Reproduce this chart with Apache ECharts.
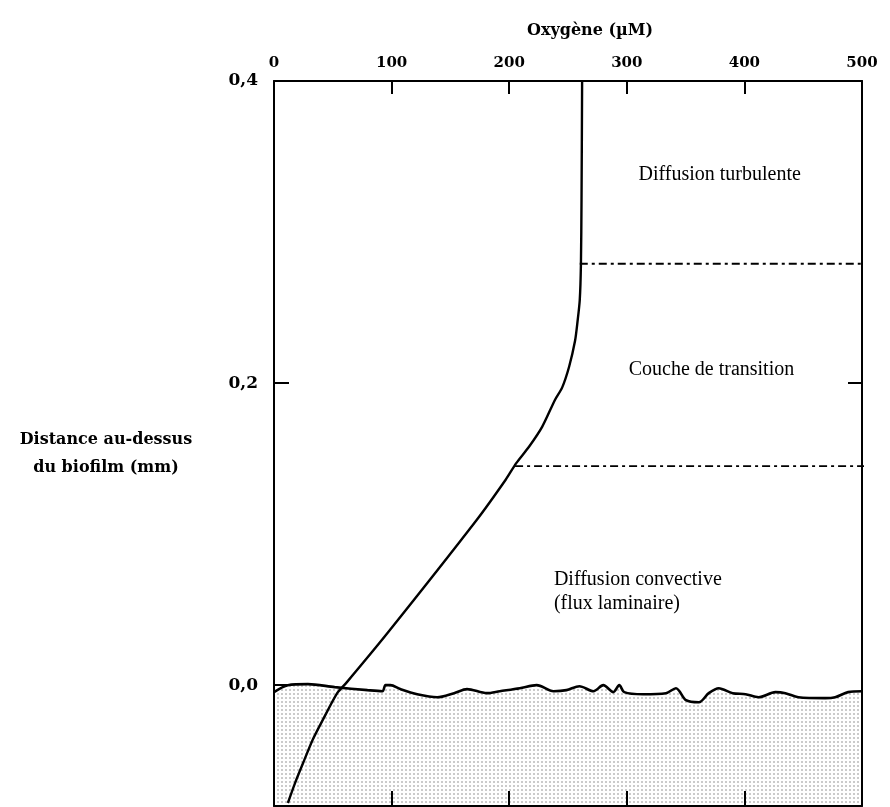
<!DOCTYPE html>
<html>
<head>
<meta charset="utf-8">
<script src="https://cdn.jsdelivr.net/npm/echarts@6/dist/echarts.min.js"></script>
<style>html,body{margin:0;padding:0;background:#fff;}#chart{width:890px;height:807px;}</style>
</head>
<body>
<div id="chart"></div>
<script>
// ---- data ----
const oxygenTicks = [0, 100, 200, 300, 400, 500];
const distanceTicks = [0, 0.2, 0.4];
const profileO2 = [262, 261.5, 261, 260, 258, 256, 251, 245, 239, 228, 217, 206, 197, 172, 96, 62, 54, 41.5, 33.0, 24.5, 17.8, 11.8];
const profileDist = [0.400, 0.321, 0.279, 0.255, 0.240, 0.228, 0.211, 0.197, 0.189, 0.171, 0.158, 0.147, 0.136, 0.109, 0.034, 0.002, -0.005, -0.023, -0.036, -0.052, -0.065, -0.078];
const surfaceO2 = [0, 11.8, 28.8, 51.6, 79.5, 92.2, 94.8, 99.0, 107.4, 121.8, 138.7, 153.1, 164.1, 181.0, 192.0, 209.0, 223.4, 237.7, 248.7, 259.7, 271.6, 280.0, 288.5, 293.6, 297.8, 313.9, 333.3, 341.8, 350.3, 361.3, 369.7, 378.2, 390.0, 401.0, 412.0, 426.4, 434.9, 445.9, 468.7, 477.2, 488.2, 500];
const surfaceDist = [-0.0046, 0.0000, 0.0007, -0.0013, -0.0033, -0.0040, 0.0000, 0.0000, -0.0026, -0.0060, -0.0080, -0.0053, -0.0026, -0.0053, -0.0040, -0.0020, 0.0000, -0.0040, -0.0033, -0.0007, -0.0040, 0.0000, -0.0046, 0.0000, -0.0046, -0.0060, -0.0053, -0.0020, -0.0099, -0.0113, -0.0053, -0.0020, -0.0053, -0.0060, -0.0080, -0.0046, -0.0053, -0.0080, -0.0086, -0.0080, -0.0046, -0.0040];
const boundaryDist = [0.279, 0.145];
const boundaryStartO2 = [260, 205];
const boundaryEndO2 = [511, 510];
const zoneNames = ['Diffusion turbulente', 'Couche de transition', 'Diffusion convective\n(flux laminaire)'];
const zoneO2 = [379, 372, 238];
const zoneDist = [0.338, 0.209, 0.062];
const zoneAlign = ['center', 'center', 'left'];
const yAxisTitle = 'Distance au-dessus\ndu biofilm (mm)';

// ---- chart ----
const chart = echarts.init(document.getElementById('chart'), null, {renderer: 'canvas'});

const pat = document.createElement('canvas');
pat.width = 4; pat.height = 4;
const pctx = pat.getContext('2d');
pctx.fillStyle = '#ffffff'; pctx.fillRect(0, 0, 4, 4);
pctx.fillStyle = '#cbcbcb'; pctx.fillRect(1, 1, 2, 2);

const boldFont = 'DejaVu Serif';
const xAxisBase = {type: 'value', min: 0, max: 500, interval: 100, splitLine: {show: false}, z: 8,
  axisLine: {show: true, onZero: false, lineStyle: {color: '#000', width: 2}}};
const yAxisBase = {type: 'value', min: -0.08, max: 0.4, splitLine: {show: false}, z: 8,
  axisLine: {show: true, onZero: false, lineStyle: {color: '#000', width: 2}}};

const series = [];
series.push({
  type: 'line', name: 'biofilm', data: surfaceO2.map((x, i) => [x, surfaceDist[i]]),
  smooth: 0.3, symbol: 'none', z: 2,
  lineStyle: {color: '#000', width: 2.6},
  areaStyle: {origin: 'start', color: {image: pat, repeat: 'repeat'}, opacity: 1}
});
series.push({
  type: 'line', name: 'oxygène', data: profileO2.map((x, i) => [x, profileDist[i]]),
  smooth: 0.25, symbol: 'none', z: 5,
  lineStyle: {color: '#000', width: 2.4}
});
boundaryDist.forEach((d, i) => {
  series.push({
    type: 'line', data: [[boundaryStartO2[i], d], [boundaryEndO2[i], d]], symbol: 'none', clip: false, z: 4,
    lineStyle: {color: '#000', width: 1.8, type: [8, 4, 3, 4]}
  });
});
series.push({
  type: 'scatter', symbolSize: 0, z: 6, itemStyle: {opacity: 1},
  data: zoneO2.map((x, i) => ({value: [x, zoneDist[i], zoneNames[i]], label: {align: zoneAlign[i]}})),
  label: {show: true, position: 'inside', formatter: p => p.data.value[2],
    fontFamily: 'Liberation Serif', fontSize: 20, color: '#000', opacity: 1, lineHeight: 24}
});

chart.setOption({
  animation: false,
  backgroundColor: '#fff',
  grid: {left: 274, right: 28, top: 81, bottom: 1, containLabel: false},
  graphic: [{
    type: 'text', x: 106, y: 454, z: 10,
    style: {text: yAxisTitle, align: 'center', verticalAlign: 'middle', lineHeight: 28,
      font: 'bold 16px "DejaVu Serif"', fill: '#000'}
  }],
  xAxis: [
    Object.assign({}, xAxisBase, {position: 'top',
      name: 'Oxygène (µM)', nameLocation: 'middle', nameGap: 42,
      nameTextStyle: {fontFamily: boldFont, fontWeight: 'bold', fontSize: 16, color: '#000', padding: [0, 0, 0, 44]},
      axisTick: {show: true, inside: true, length: 13, lineStyle: {color: '#000', width: 2}},
      axisLabel: {show: true, margin: 10, fontFamily: boldFont, fontWeight: 'bold', fontSize: 15, color: '#000'}}),
    Object.assign({}, xAxisBase, {position: 'bottom',
      axisTick: {show: true, inside: true, length: 15, lineStyle: {color: '#000', width: 2}},
      axisLabel: {show: false}})
  ],
  yAxis: [
    Object.assign({}, yAxisBase, {position: 'left',
      axisTick: {show: true, inside: true, length: 15, customValues: [0, 0.2], lineStyle: {color: '#000', width: 2}},
      axisLabel: {show: true, margin: 16, customValues: distanceTicks, fontFamily: boldFont, fontWeight: 'bold', fontSize: 17, color: '#000',
        formatter: v => v.toFixed(1).replace('.', ',')}}),
    Object.assign({}, yAxisBase, {position: 'right',
      axisTick: {show: true, inside: true, length: 14, customValues: [0.2], lineStyle: {color: '#000', width: 2}},
      axisLabel: {show: false}})
  ],
  series: series
});
</script>
</body>
</html>
